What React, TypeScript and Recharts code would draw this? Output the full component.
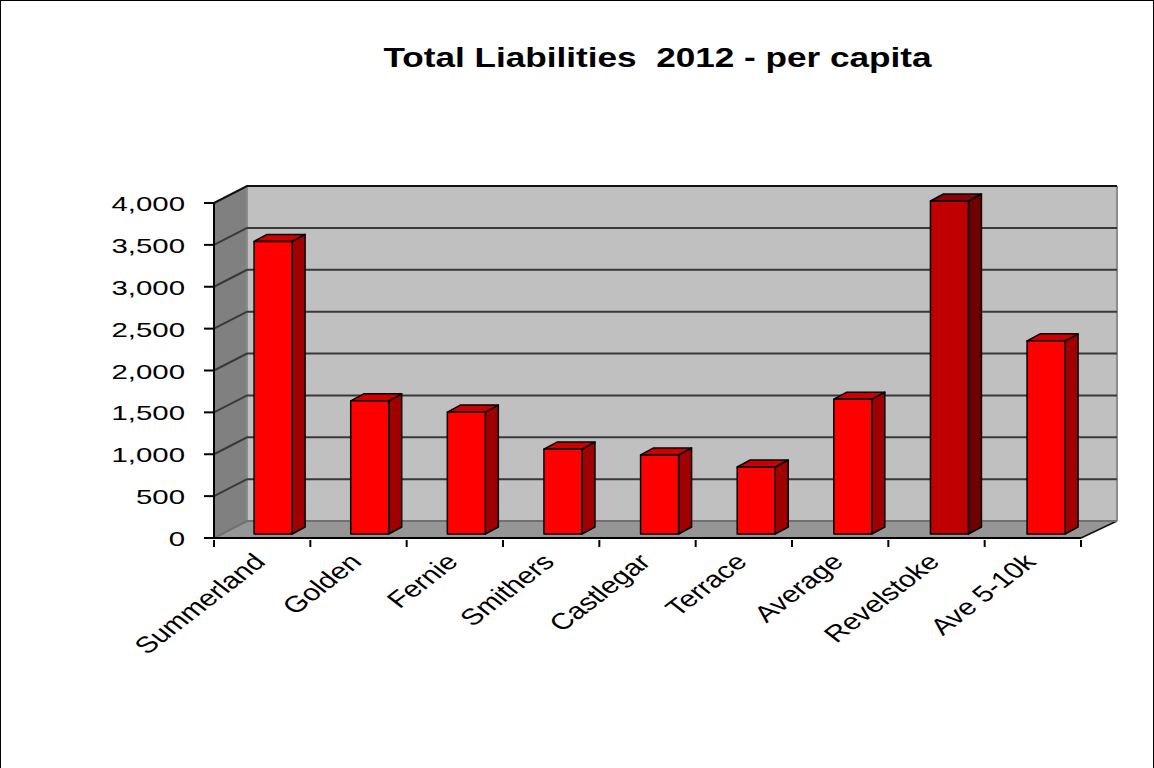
import React from "react";
import { BarChart, Bar, XAxis, YAxis, CartesianGrid, usePlotArea } from "recharts";

const categories = ["Summerland", "Golden", "Fernie", "Smithers", "Castlegar", "Terrace", "Average", "Revelstoke", "Ave 5-10k"];
const liabilities = [3515, 1600, 1465, 1020, 950, 805, 1620, 4000, 2320];
const yTicks = [0, 500, 1000, 1500, 2000, 2500, 3000, 3500, 4000];
const highlighted = "Revelstoke";
const chartTitle = "Total Liabilities  2012 - per capita";

const rows = categories.map((name, i) => ({ name, value: liabilities[i] }));

const FONT = "'Liberation Sans', Arial, sans-serif";
const STRETCH = 1.4;
const PLOT_LEFT = 214;
const PLOT_WIDTH = 867;
const BAND = PLOT_WIDTH / categories.length;
// Oblique offset of the back wall from the front plane.
const DEPTH_X = 33;
const DEPTH_Y = 17;
// Bars stand part-way into the floor and have their own shallow depth.
const BAR_DX = 11;
const BAR_DY = 4;
const BAR_DEPTH_X = 13;
const BAR_DEPTH_Y = 7;

const Walls = () => {
  const plot = usePlotArea();
  if (!plot) return null;
  const { x, y, width, height } = plot;
  const r = x + width;
  const b = y + height;
  const pts = (a: number[][]) => a.map((p) => p.join(",")).join(" ");
  return (
    <g>
      <polygon points={pts([[x + DEPTH_X, y - DEPTH_Y], [r + DEPTH_X + 3, y - DEPTH_Y], [r + DEPTH_X + 3, b - DEPTH_Y], [x + DEPTH_X, b - DEPTH_Y]])} fill="#c0c0c0" />
      <polygon points={pts([[x, y], [x + DEPTH_X, y - DEPTH_Y], [x + DEPTH_X, b - DEPTH_Y], [x, b]])} fill="#808080" />
      <polygon points={pts([[x, b], [x + DEPTH_X, b - DEPTH_Y], [r + DEPTH_X + 3, b - DEPTH_Y], [r, b]])} fill="#969696" />
      <line x1={r + DEPTH_X + 3} y1={y - DEPTH_Y} x2={r + DEPTH_X + 3} y2={b - DEPTH_Y} stroke="#8c8c8c" strokeWidth={2} />
      <line x1={x + DEPTH_X} y1={y - DEPTH_Y} x2={x + DEPTH_X} y2={b - DEPTH_Y} stroke="#8c8c8c" strokeWidth={2} />
      <line x1={r} y1={b} x2={r + DEPTH_X + 3} y2={b - DEPTH_Y} stroke="#111" strokeWidth={1.5} />
    </g>
  );
};

const ChartTitle = () => (
  <text
    transform="translate(657.5,67) scale(1.255,1)"
    textAnchor="middle"
    fontFamily={FONT}
    fontWeight="bold"
    fontSize={28}
    fill="#000"
    style={{ whiteSpace: "pre" }}
  >
    {chartTitle}
  </text>
);

const gridLine = (props: any) => {
  const { x1, x2, y1 } = props;
  const isTop = y1 <= 204;
  const isFloor = y1 >= 537;
  return (
    <polyline
      key={`level-${y1}`}
      points={`${x1},${y1} ${x1 + DEPTH_X},${y1 - DEPTH_Y} ${x2 + DEPTH_X + 3},${y1 - DEPTH_Y}`}
      fill="none"
      stroke={isTop ? "#111" : isFloor ? "#707070" : "#383838"}
      strokeWidth={2}
    />
  );
};

// Category label plus a tick mark on the left edge of its band (and the right edge of the last band).
const XTick = ({ x, y, payload, index }: any) => {
  const left = x - BAND / 2;
  const marks = index === categories.length - 1 ? [left, left + BAND] : [left];
  return (
    <g>
      {marks.map((mx) => (
        <line key={mx} x1={mx} x2={mx} y1={y - 7} y2={y} stroke="#000" strokeWidth={2} />
      ))}
      <g transform={`translate(${x - 1},${y + 12}) scale(1.3,1) rotate(-45)`}>
        <text textAnchor="end" dominantBaseline="middle" fontFamily={FONT} fontSize={23} fill="#000">
          {payload.value}
        </text>
      </g>
    </g>
  );
};

const YTick = ({ x, y, payload }: any) => (
  <g transform={`translate(${x - 17},${y + 8}) scale(${STRETCH},1)`}>
    <text textAnchor="end" fontFamily={FONT} fontSize={21} fill="#000">
      {payload.value.toLocaleString("en-US")}
    </text>
  </g>
);

// Oblique box for one bar: front face, lit top, shaded side.
const Box = ({ x, y, width, height, payload }: any) => {
  const isHighlight = payload.name === highlighted;
  const face = isHighlight ? "#c00000" : "#ff0000";
  const top = isHighlight ? "#900000" : "#cc0000";
  const side = isHighlight ? "#700000" : "#a00000";
  const l = x + BAR_DX + (x - PLOT_LEFT) * 0.003;
  const r = l + width;
  const b = y + height - BAR_DY;
  const t = b - height * (333 / 335);
  const pts = (a: number[][]) => a.map((p) => p.join(",")).join(" ");
  return (
    <g stroke="#000" strokeWidth={1.5} strokeLinejoin="round">
      <polygon fill={side} points={pts([[r, t], [r + BAR_DEPTH_X, t - BAR_DEPTH_Y], [r + BAR_DEPTH_X, b - BAR_DEPTH_Y], [r, b]])} />
      <polygon fill={top} points={pts([[l, t], [l + BAR_DEPTH_X, t - BAR_DEPTH_Y], [r + BAR_DEPTH_X, t - BAR_DEPTH_Y], [r, t]])} />
      <rect fill={face} x={l} y={t} width={width} height={b - t} />
    </g>
  );
};

export default function App() {
  const gridProps: any = { zIndex: 1 };
  return (
    <div
      style={{
        position: "absolute",
        left: 0,
        top: 0,
        width: 1154,
        height: 768,
        overflow: "hidden",
        background: "#fff",
      }}
    >
      <div
        style={{
          position: "absolute",
          left: 0,
          top: 0,
          width: 1152,
          height: 780,
          border: "1px solid #000",
        }}
      />
      <BarChart
        width={1154}
        height={768}
        data={rows}
        barCategoryGap={0}
        margin={{ top: 203, right: 73, bottom: 130, left: 114 }}
      >
        <Walls />
        <CartesianGrid vertical={false} horizontal={gridLine} {...gridProps} />
        <XAxis
          dataKey="name"
          interval={0}
          height={100}
          tick={<XTick />}
          tickLine={false}
          tickSize={7}
          axisLine={{ stroke: "#000", strokeWidth: 2 }}
        />
        <YAxis
          width={100}
          domain={[0, 4000]}
          ticks={yTicks}
          tick={<YTick />}
          tickSize={10}
          axisLine={{ stroke: "#000", strokeWidth: 2 }}
          tickLine={{ stroke: "#000", strokeWidth: 2 }}
        />
        <Bar dataKey="value" barSize={38} shape={<Box />} isAnimationActive={false} />
        <ChartTitle />
      </BarChart>
    </div>
  );
}
